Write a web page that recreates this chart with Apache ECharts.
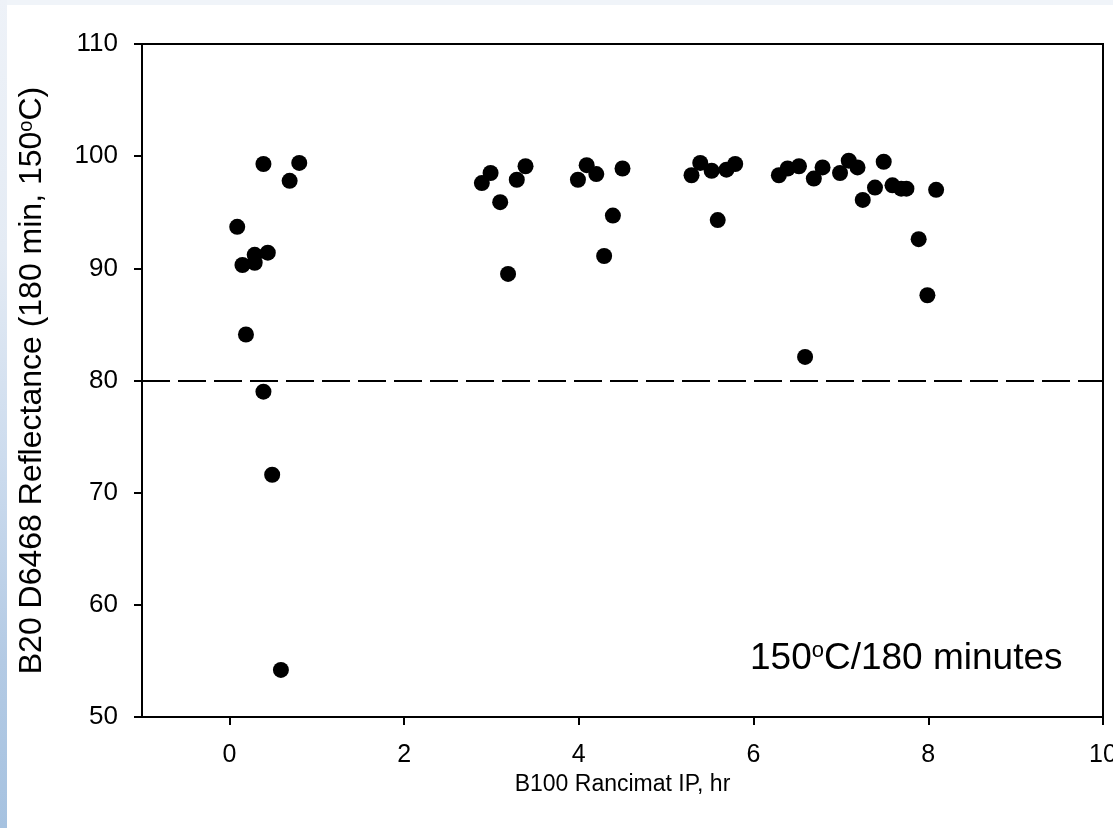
<!DOCTYPE html>
<html>
<head>
<meta charset="utf-8">
<script src="https://cdn.jsdelivr.net/npm/echarts@6/dist/echarts.min.js"></script>
<style>
html, body { margin: 0; padding: 0; width: 1113px; height: 828px; overflow: hidden; background: #f0f4f9; }
#strip { position: absolute; left: 0; top: 0; width: 7px; height: 828px;
  background: linear-gradient(to bottom, #eef2f8 0%, #e4ebf4 30%, #cddcee 55%, #b3cae4 80%, #a6c2e0 100%); }
#panel { position: absolute; left: 7px; top: 5px; right: 0; bottom: 0; background: #fff; }
#chart { position: absolute; left: 0; top: 0; width: 1113px; height: 828px; }
</style>
</head>
<body>
<div id="strip"></div>
<div id="panel"></div>
<div id="chart"></div>
<script>
// ---- data ----
const rancimatIP = [0.09, 0.15, 0.19, 0.29, 0.29, 0.39, 0.39, 0.44, 0.49, 0.59, 0.69, 0.80,
  2.89, 2.99, 3.10, 3.19, 3.29, 3.39, 3.99, 4.09, 4.20, 4.29, 4.39, 4.50,
  5.29, 5.39, 5.52, 5.59, 5.69, 5.79, 6.29, 6.39, 6.52, 6.59, 6.69, 6.79,
  6.99, 7.09, 7.19, 7.25, 7.39, 7.49, 7.59, 7.69, 7.75, 7.89, 7.99, 8.09];
const reflectance = [93.7, 90.3, 84.1, 90.5, 91.2, 99.3, 79.0, 91.4, 71.6, 54.2, 97.8, 99.4,
  97.6, 98.5, 95.9, 89.5, 97.9, 99.1, 97.9, 99.2, 98.4, 91.1, 94.7, 98.9,
  98.3, 99.4, 98.7, 94.3, 98.8, 99.3, 98.3, 98.9, 99.1, 82.1, 98.0, 99.0,
  98.5, 99.6, 99.0, 96.1, 97.2, 99.5, 97.4, 97.1, 97.1, 92.6, 87.6, 97.0];
const xTicks = [0, 2, 4, 6, 8, 10];
const threshold = 80;
const xTitle = 'B100 Rancimat IP, hr';
const yTitleParts = ['B20 D6468 Reflectance (180 min, 150', 'o', 'C)'];
const noteParts = ['150', 'o', 'C/180 minutes'];

const points = rancimatIP.map((x, i) => [x, reflectance[i]]);
const FONT = '"Liberation Sans", Arial, sans-serif';

const chart = echarts.init(document.getElementById('chart'), null, { renderer: 'canvas' });
chart.setOption({
  animation: false,
  backgroundColor: 'transparent',
  textStyle: { fontFamily: FONT, color: '#000' },
  grid: { left: 142, top: 44, width: 961, height: 673, outerBoundsMode: 'none', containLabel: false,
    show: true, borderColor: '#000', borderWidth: 2, backgroundColor: 'transparent' },
  xAxis: {
    type: 'value', min: -1, max: 10,
    axisLine: { show: true, onZero: false, lineStyle: { color: '#000', width: 2 } },
    axisTick: { show: true, inside: false, length: 8, lineStyle: { color: '#000', width: 2 }, customValues: xTicks },
    axisLabel: { show: true, margin: 26, fontSize: 25, color: '#000', fontFamily: FONT, customValues: xTicks },
    splitLine: { show: false },
    name: xTitle, nameLocation: 'middle', nameGap: 56,
    nameTextStyle: { fontSize: 23, color: '#000', fontFamily: FONT }
  },
  yAxis: {
    type: 'value', min: 50, max: 110, interval: 10,
    axisLine: { show: true, onZero: false, lineStyle: { color: '#000', width: 2 } },
    axisTick: { show: true, inside: false, length: 8, lineStyle: { color: '#000', width: 2 } },
    axisLabel: { margin: 24, fontSize: 26, color: '#000', fontFamily: FONT },
    splitLine: { show: false },
    name: '{a|' + yTitleParts[0] + '}{s|' + yTitleParts[1] + '}{a|' + yTitleParts[2] + '}',
    nameLocation: 'middle', nameGap: 94, nameRotate: 90,
    nameTextStyle: {
      color: '#000', fontFamily: FONT,
      rich: {
        a: { fontSize: 32, fontFamily: FONT, color: '#000' },
        s: { fontSize: 20, fontFamily: FONT, color: '#000', padding: [0, 0, 12, 0] }
      }
    }
  },
  graphic: [{
    type: 'text', left: 750, top: 640,
    style: {
      text: '{a|' + noteParts[0] + '}{s|' + noteParts[1] + '}{a|' + noteParts[2] + '}',
      rich: {
        a: { fontSize: 37, fontFamily: FONT, fill: '#000' },
        s: { fontSize: 22, fontFamily: FONT, fill: '#000', padding: [0, 0, 15, 0] }
      }
    }
  }],
  series: [{
    type: 'scatter',
    data: points,
    symbol: 'circle', symbolSize: 16,
    itemStyle: { color: '#000', opacity: 1 },
    markLine: {
      silent: true, symbol: 'none', animation: false,
      label: { show: false },
      lineStyle: { color: '#000', width: 2, type: [28, 8], opacity: 1 },
      data: [{ yAxis: threshold }]
    }
  }]
});
</script>
</body>
</html>
